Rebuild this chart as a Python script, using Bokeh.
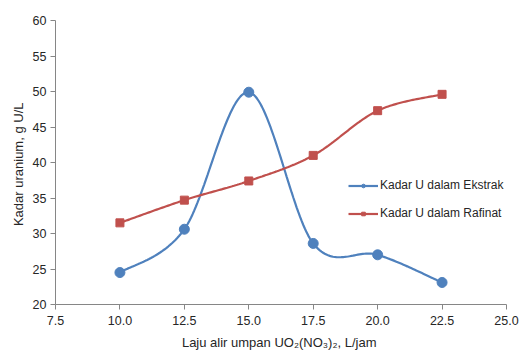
import numpy as np
from bokeh.plotting import figure
from bokeh.models import Range1d, Legend, LegendItem, FixedTicker, ColumnDataSource
from bokeh.embed import file_html
from bokeh.resources import INLINE

flow = [10.0, 12.5, 15.0, 17.5, 20.0, 22.5]
ekstrak = [24.5, 30.6, 49.9, 28.6, 27.0, 23.1]
rafinat = [31.5, 34.7, 37.4, 41.0, 47.3, 49.6]
x_ticks = [7.5, 10.0, 12.5, 15.0, 17.5, 20.0, 22.5, 25.0]
y_ticks = [20, 25, 30, 35, 40, 45, 50, 55, 60]

BLUE = "#4F81BD"
RED = "#C0504D"
FONT = "Liberation Sans"

FW, FH = 451, 284
X0, X1, Y0, Y1 = 7.5, 25.0, 20, 60
sx = FW / (X1 - X0)
sy = FH / (Y1 - Y0)


def smooth(xs, ys, n=40):
    # Catmull-Rom (Excel style smoothing) computed in screen-proportional space
    P = np.column_stack([np.array(xs) * sx, np.array(ys) * sy])
    P = np.vstack([P[0], P, P[-1]])
    out = []
    for i in range(1, len(P) - 2):
        p0, p1, p2, p3 = P[i - 1], P[i], P[i + 1], P[i + 2]
        c1 = p1 + (p2 - p0) / 6.0
        c2 = p2 - (p3 - p1) / 6.0
        t = np.linspace(0, 1, n)[:, None]
        seg = ((1 - t) ** 3) * p1 + 3 * ((1 - t) ** 2) * t * c1 + 3 * (1 - t) * t * t * c2 + t ** 3 * p2
        out.append(seg if i == 1 else seg[1:])
    S = np.vstack(out)
    return S[:, 0] / sx, S[:, 1] / sy


p = figure(frame_width=FW, frame_height=FH, output_backend="svg", toolbar_location=None,
           x_range=Range1d(X0, X1), y_range=Range1d(Y0, Y1),
           min_border_left=55, min_border_right=15, min_border_top=20, min_border_bottom=48)
p.outline_line_color = None
p.xgrid.visible = False
p.ygrid.visible = False
p.background_fill_color = "white"
p.border_fill_color = "white"

ex, ey = smooth(flow, ekstrak)
rx, ry = smooth(flow, rafinat)

lb = p.line(ex, ey, line_color=BLUE, line_width=2.2)
pb = p.scatter(flow, ekstrak, marker="circle", size=10, fill_color=BLUE, line_color=BLUE)
lr = p.line(rx, ry, line_color=RED, line_width=2.2)
pr = p.scatter(flow, rafinat, marker="square", size=8, fill_color=RED, line_color=RED)

# legend-only glyphs (small markers), one point placed far outside the visible range
offscreen = ColumnDataSource(data=dict(x=[-1000.0], y=[-1000.0]))
gb = p.scatter("x", "y", source=offscreen, marker="circle", size=4, fill_color=BLUE, line_color=BLUE)
gr = p.scatter("x", "y", source=offscreen, marker="square", size=4, fill_color=RED, line_color=RED)

legend = Legend(items=[LegendItem(label="Kadar U dalam Ekstrak", renderers=[lb, gb]),
                       LegendItem(label="Kadar U dalam Rafinat", renderers=[lr, gr])],
                location=(293, 81), orientation="vertical")
legend.border_line_color = None
legend.background_fill_alpha = 0
legend.padding = 0
legend.margin = 0
legend.spacing = 8
legend.glyph_width = 30
legend.glyph_height = 9
legend.label_height = 20
legend.label_standoff = 2
legend.label_text_font = FONT
legend.label_text_font_size = "12px"
legend.label_text_color = "#262626"
p.add_layout(legend, "center")

for ax in (p.xaxis, p.yaxis):
    ax.axis_line_color = "#868686"
    ax.major_tick_line_color = "#868686"
    ax.minor_tick_line_color = None
    ax.major_tick_in = 0
    ax.major_tick_out = 5
    ax.major_label_text_font = FONT
    ax.major_label_text_font_size = "12.5px"
    ax.major_label_text_color = "#262626"
    ax.axis_label_text_font = FONT
    ax.axis_label_text_font_size = "13px"
    ax.axis_label_text_font_style = "normal"
    ax.axis_label_text_color = "#262626"

p.xaxis.ticker = FixedTicker(ticks=x_ticks)
p.yaxis.ticker = FixedTicker(ticks=y_ticks)
p.xaxis.major_label_overrides = {t: f"{t:.1f}" for t in x_ticks}
p.yaxis.major_label_overrides = {t: str(t) for t in y_ticks}
p.xaxis.axis_label = "Laju alir umpan UO\u2082(NO\u2083)\u2082,  L/jam"
p.yaxis.axis_label = "Kadar uranium,  g U/L"
p.xaxis.major_label_standoff = 6
p.xaxis.axis_label_standoff = 7
p.yaxis.major_label_standoff = 4
p.yaxis.axis_label_standoff = 4

open("out.html", "w").write(file_html(p, INLINE))
